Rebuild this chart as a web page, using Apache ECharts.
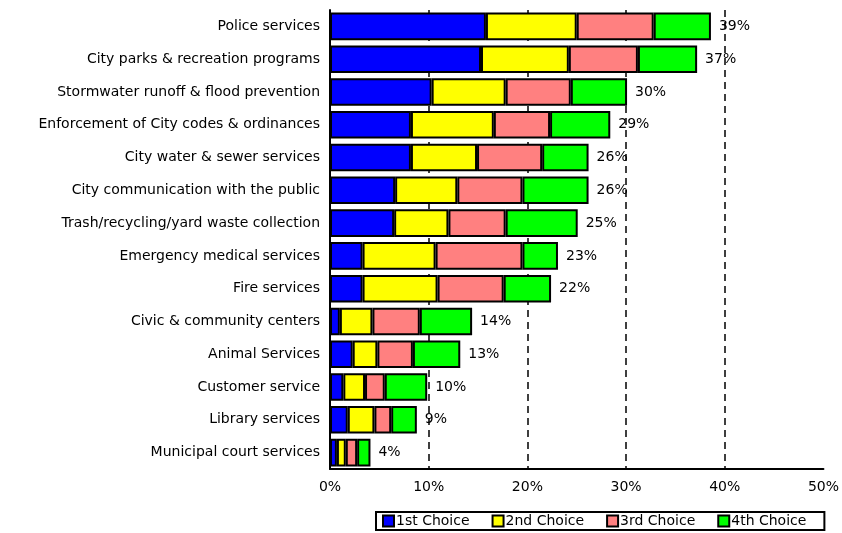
<!DOCTYPE html>
<html><head><meta charset="utf-8">
<script src="https://cdn.jsdelivr.net/npm/echarts@6/dist/echarts.min.js"></script>
<style>html,body{margin:0;padding:0;background:#fff}#c{width:842px;height:533px}</style>
</head><body><div id="c"></div>
<script>
const categories = ["Police services","City parks & recreation programs","Stormwater runoff & flood prevention","Enforcement of City codes & ordinances","City water & sewer services","City communication with the public","Trash/recycling/yard waste collection","Emergency medical services","Fire services","Civic & community centers","Animal Services","Customer service","Library services","Municipal court services"];
const first  = [15.8,15.3,10.3,8.2,8.2,6.6,6.5,3.3,3.3,1.0,2.3,1.35,1.8,0.7];
const second = [9.2,8.9,7.5,8.4,6.7,6.3,5.5,7.4,7.6,3.3,2.5,2.2,2.7,0.9];
const third  = [7.8,7.0,6.6,5.7,6.6,6.6,5.8,8.8,6.7,4.8,3.6,2.0,1.7,1.15];
const fourth = [5.8,6.0,5.7,6.1,4.7,6.7,7.3,3.6,4.8,5.3,4.8,4.3,2.6,1.35];
const totals = [39,37,30,29,26,26,25,23,22,14,13,10,9,4];
const seriesNames = ["1st Choice","2nd Choice","3rd Choice","4th Choice"];
const colors = ["#0000ff","#ffff00","#ff8080","#00ff00"];

const font = "DejaVu Sans";
const chart = echarts.init(document.getElementById('c'));
const data = [first, second, third, fourth];
chart.setOption({
  animation:false,
  textStyle:{fontFamily:font},
  grid:{left:330,right:11,top:10,bottom:64},
  legend:{
    data:seriesNames, left:376, top:512,
    icon:'rect',
    itemWidth:11, itemHeight:11, itemGap:22,
    borderColor:'#000', borderWidth:2, padding:[2,18,2,6],
    textStyle:{fontFamily:font,fontSize:14,color:'#000',padding:[0,0,0,-3]},
    itemStyle:{borderColor:'#000',borderWidth:2}
  },
  xAxis:{
    type:'value', min:0, max:50, interval:10,
    axisLine:{show:true,lineStyle:{color:'#000',width:2}},
    axisTick:{show:false},
    axisLabel:{formatter:v=>v+'%',color:'#000',fontSize:14,margin:11,fontFamily:font},
    splitLine:{show:true,showMinLine:false,showMaxLine:false,lineStyle:{color:'#000',width:1.5,type:[7,5]}}
  },
  yAxis:{
    type:'category', data:categories, inverse:true,
    axisLine:{show:true,lineStyle:{color:'#000',width:2}},
    axisTick:{show:false},
    axisLabel:{color:'#000',fontSize:14,margin:10,fontFamily:font}
  },
  series:data.map((d,i)=>({
    name:seriesNames[i], type:'bar', stack:'t', data:d,
    barCategoryGap:'16%',
    itemStyle:{color:colors[i],borderColor:'#000',borderWidth:2},
    label: i===3 ? {show:true,position:'right',distance:8,color:'#000',fontSize:14,fontFamily:font,
      formatter:p=>totals[p.dataIndex]+'%'} : {show:false}
  }))
});
</script></body></html>
